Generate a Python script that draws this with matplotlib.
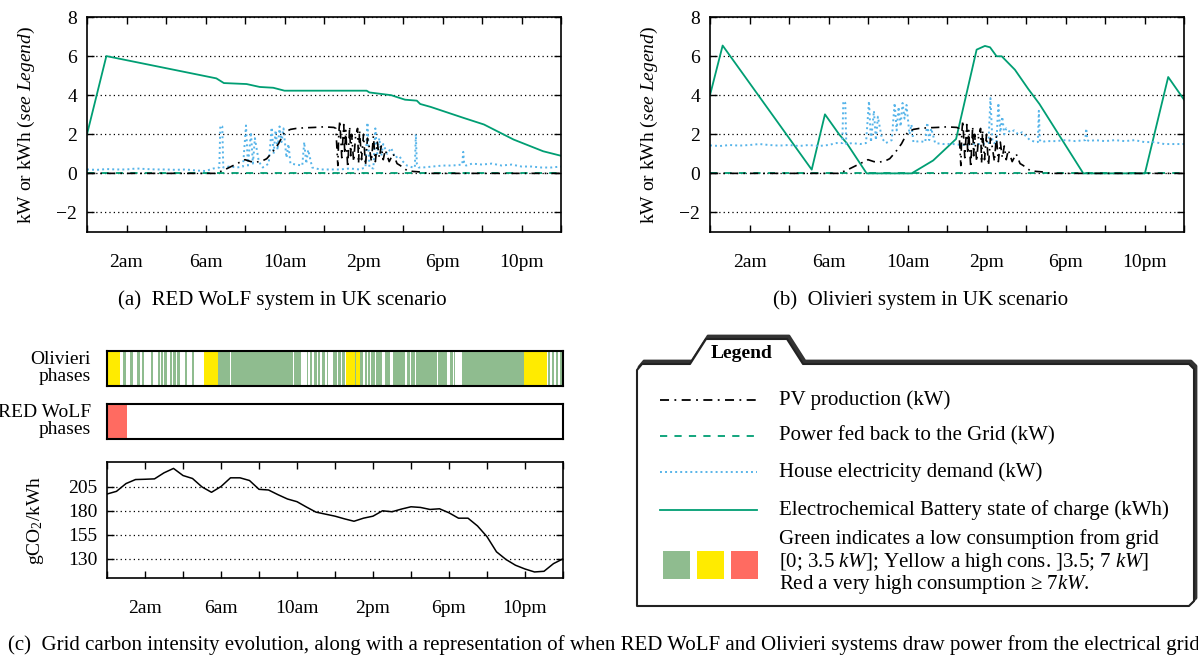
import numpy as np
import matplotlib
matplotlib.use("Agg")
import matplotlib.pyplot as plt
from matplotlib.patches import Polygon, Rectangle
from matplotlib.lines import Line2D

plt.rcParams['font.family'] = ['Liberation Serif', 'DejaVu Serif']
plt.rcParams['mathtext.fontset'] = 'custom'
plt.rcParams['mathtext.rm'] = 'Liberation Serif'
plt.rcParams['mathtext.it'] = 'Liberation Serif:italic'
plt.rcParams['font.size'] = 14

# ---- data ----
hour_ticks = [0, 2, 4, 6, 8, 10, 12, 14, 16, 18, 20, 22, 24]
hour_labels = ['', '2am', '', '6am', '', '10am', '', '2pm', '', '6pm', '', '10pm', '']

pv_hours = [0, 6.5, 6.9, 7.3, 7.7, 8.0, 8.3, 8.6, 8.9, 9.1, 9.4, 9.7, 10.0, 10.3, 10.6, 11.0, 11.5, 12.0, 12.5,
            12.6, 12.7, 12.75, 12.8, 12.9, 13.0, 13.05, 13.1, 13.2, 13.3, 13.35, 13.4, 13.5, 13.6, 13.7, 13.75,
            13.8, 13.9, 14.0, 14.1, 14.2, 14.3, 14.4,
            14.5, 14.6, 14.7, 14.8, 14.9, 15.0, 15.1, 15.3, 15.5, 15.7, 15.85, 16.2, 16.5, 16.9, 17.2, 24]
pv_kw = [0, 0, 0.15, 0.35, 0.55, 0.7, 0.6, 0.58, 0.65, 0.75, 1.1, 1.52, 2.1, 2.25, 2.3, 2.33, 2.35, 2.38, 2.35,
         2.3, 0.4, 2.1, 2.7, 0.8, 2.5, 1.0, 2.2, 0.3, 2.4, 0.9, 2.0, 0.6, 1.9, 2.3, 0.5,
         2.2, 0.7, 2.0, 0.4, 1.8, 1.3, 0.6,
         1.9, 0.6, 1.6, 0.8, 1.4, 0.7, 1.2, 0.6, 1.0, 0.5, 0.41, 0.15, 0.1, 0.07, 0, 0]

feed_hours = [0, 24]
feed_kw = [0, 0]

demand_hours = [0, 0.5, 1, 1.5, 2, 2.5, 3, 3.5, 4, 4.5, 5, 5.5, 6, 6.4, 6.7, 6.75, 6.85, 6.9,
                7.2, 7.6, 7.9, 8.05, 8.15, 8.3, 8.4, 8.5, 8.7, 8.9,
                9.2, 9.35, 9.45, 9.55, 9.65, 9.75, 9.85, 9.95, 10.1, 10.2, 10.3,
                10.6, 10.9, 11.0, 11.1, 11.2, 11.4, 11.8, 12.3, 12.8, 13.3, 13.8,
                14.1, 14.2, 14.3, 14.5, 14.6, 14.7, 14.8, 14.9, 15.0, 15.2, 15.4, 15.6, 15.8, 16.0, 16.2,
                16.5, 16.6, 16.65, 16.7, 16.8, 17.0, 17.5, 18.0, 18.5, 19.0, 19.05, 19.1, 19.2, 19.5,
                20.0, 20.5, 21.0, 21.5, 22.0, 22.5, 23.0, 23.5, 24.0]
demand_a = [0.2, 0.18, 0.22, 0.2, 0.2, 0.25, 0.22, 0.2, 0.2, 0.18, 0.2, 0.15, 0.12, 0.25, 0.3, 2.45, 2.4, 0.3,
            0.35, 0.3, 0.35, 2.45, 0.4, 2.1, 0.5, 1.8, 0.6, 0.3,
            0.5, 2.35, 1.0, 2.2, 1.2, 2.4, 1.6, 2.3, 0.8, 1.5, 0.5,
            0.45, 0.4, 1.6, 0.5, 1.2, 0.3, 0.2, 0.2, 0.2, 0.25, 0.2,
            0.3, 2.6, 0.3, 0.25, 2.3, 1.0, 1.8, 0.9, 1.5, 1.0, 1.3, 0.8, 0.9, 0.6, 0.4,
            0.3, 0.3, 2.0, 0.5, 0.3, 0.3, 0.35, 0.4, 0.4, 0.45, 1.1, 0.45, 0.4, 0.5,
            0.45, 0.5, 0.4, 0.45, 0.35, 0.35, 0.3, 0.3, 0.35]
demand_b = [1.43, 1.4, 1.45, 1.42, 1.45, 1.5, 1.45, 1.42, 1.45, 1.4, 1.45, 1.4, 1.45, 1.55, 1.55, 3.7, 3.6, 1.5,
            1.55, 1.5, 1.55, 3.7, 1.6, 3.2, 1.7, 2.9, 1.8, 1.55,
            1.7, 3.6, 2.2, 3.4, 2.4, 3.6, 2.8, 3.5, 2.0, 2.5, 1.6,
            1.65, 1.6, 2.6, 1.7, 2.3, 1.55, 1.5, 1.5, 1.45, 1.5, 1.5,
            1.55, 3.85, 1.6, 1.5, 3.6, 2.1, 2.9, 2.0, 2.3, 2.1, 2.2, 2.0, 2.1, 1.9, 1.7,
            1.6, 1.6, 3.2, 1.7, 1.6, 1.65, 1.65, 1.7, 1.65, 1.7, 2.3, 1.7, 1.65, 1.7,
            1.65, 1.7, 1.65, 1.7, 1.6, 1.6, 1.5, 1.5, 1.5]

soc_a_hours = [0, 0.98, 6.55, 6.93, 8.08, 8.75, 9.43, 10.0, 14.16, 14.3, 15.4, 16.1, 16.7, 16.87, 17.4,
               19.06, 20.1, 21.6, 23.1, 24]
soc_a = [2.0, 6.0, 4.86, 4.62, 4.57, 4.42, 4.38, 4.23, 4.23, 4.14, 4.0, 3.77, 3.72, 3.55, 3.4,
         2.84, 2.5, 1.73, 1.13, 0.9]
soc_b_hours = [0, 0.64, 5.15, 5.82, 6.55, 6.92, 7.93, 10.21, 11.3, 12.46, 13.5, 13.92, 14.18, 14.51, 14.77,
               15.44, 16.12, 16.68, 18.9, 22.02, 23.2, 24]
soc_b = [4.0, 6.54, 0.19, 3.02, 1.98, 1.55, 0, 0, 0.66, 1.76, 6.33, 6.52, 6.45, 5.99, 5.99,
         5.3, 4.31, 3.55, 0, 0, 4.93, 3.77]

carbon_hours = np.arange(0, 24.01, 0.5)
carbon = [197.6, 200.4, 208.5, 212.7, 213, 213.4, 219.7, 224.3, 216.9, 213.8, 205, 199.4, 205.4, 214.5,
          214.5, 211.7, 202.5, 201.8, 196.9, 192.4, 189.6, 184, 178.7, 176.6, 174.5, 171.7, 169.2, 172.4,
          174.5, 180.1, 179.1, 181.9, 184.3, 183.6, 181.5, 182.2, 178, 172.4, 172.4, 164.3, 153.1, 137.3,
          129.3, 123.3, 119.4, 116.3, 117, 125, 130]

# phases: (start hour, end hour)
olivieri_green = [(0.83, 1.0), (1.21, 1.39), (1.56, 1.74), (1.82, 1.96), (2.32, 2.44), (2.7, 2.79),
                  (2.84, 2.93), (3.0, 3.14), (3.32, 3.42), (3.49, 3.63), (3.67, 3.84), (4.1, 4.23),
                  (4.46, 4.58), (5.86, 6.47), (6.5, 6.88), (6.91, 7.88), (7.91, 9.81), (9.86, 10.21),
                  (10.51, 10.6), (10.68, 10.77), (10.89, 11.04), (11.09, 11.21), (11.3, 11.47),
                  (11.56, 11.65), (11.91, 12.09), (12.17, 12.32), (12.38, 12.53), (13.05, 13.12),
                  (13.33, 13.49), (13.58, 13.67), (13.72, 13.84), (13.89, 14.1), (14.14, 14.46),
                  (14.63, 14.89), (15.07, 15.68), (15.77, 15.95), (15.99, 16.21), (16.25, 17.35),
                  (17.42, 17.91), (18.05, 18.23), (18.28, 18.33), (18.67, 18.88), (18.91, 21.95),
                  (23.23, 23.32), (23.4, 23.53), (23.63, 23.75), (23.84, 23.93)]
olivieri_yellow = [(0, 0.68), (5.12, 5.86), (12.56, 13.05), (13.12, 13.33), (21.95, 23.17)]
redwolf_red = [(0, 1.07)]

GREEN = '#009E73'
BLUE = '#56B4E9'
PH_GREEN = '#8FBC8F'
PH_YELLOW = '#FFEB00'
PH_RED = '#FF6B61'

W, H = 1198, 660
TXT = 15


def rect(l, t, r, b):
    return [l / W, 1 - b / H, (r - l) / W, (b - t) / H]


fig = plt.figure(figsize=(W / 100, H / 100), dpi=100)

# overlay for captions and the legend box
ov = fig.add_axes([0, 0, 1, 1])
ov.set_xlim(0, W)
ov.set_ylim(H, 0)
ov.axis('off')


def style_time_axis(ax):
    ax.set_xlim(0, 24)
    ax.set_xticks(hour_ticks)
    ax.set_xticklabels(hour_labels)
    ax.tick_params(direction='in', top=True, right=True, length=5, width=1, labelsize=14)
    ax.tick_params(axis='x', pad=16)
    ax.tick_params(axis='y', pad=7)
    ax.grid(axis='y', linestyle=(0, (1, 2.5)), color='black', linewidth=0.9)
    for s in ax.spines.values():
        s.set_linewidth(1.2)


def energy_panel(box, soc_h, soc, demand):
    ax = fig.add_axes(rect(*box))
    ax.plot(soc_h, soc, color=GREEN, lw=1.3)
    ax.plot(demand_hours, demand, color=BLUE, lw=1.4, linestyle=(0, (1, 1.6)))
    ax.plot(feed_hours, feed_kw, color=GREEN, lw=1.3, linestyle=(0, (4, 4)))
    ax.plot(pv_hours, pv_kw, color='black', lw=1.2, linestyle=(0, (5, 3, 1, 3)))
    ax.set_ylim(-3, 8)
    ax.set_yticks([-2, 0, 2, 4, 6, 8])
    ax.set_yticklabels(['\u22122', '0', '2', '4', '6', '8'])
    style_time_axis(ax)
    ax.set_ylabel('kW or kWh ($\\it{see\\ Legend}$)', fontsize=14, labelpad=14)
    return ax


energy_panel((87, 17, 561, 232), soc_a_hours, soc_a, demand_a)
energy_panel((710, 17, 1184, 232), soc_b_hours, soc_b, demand_b)

ov.text(282, 300, '(a)  RED WoLF system in UK scenario', ha='center', va='center', fontsize=TXT)
ov.text(921, 300, '(b)  Olivieri system in UK scenario', ha='center', va='center', fontsize=TXT)


def phase_bar(box, spans):
    ax = fig.add_axes(rect(*box))
    ax.set_xlim(0, 24)
    ax.set_ylim(0, 1)
    for segs, col in spans:
        ax.broken_barh([(s, e - s) for s, e in segs], (0, 1), facecolors=col, edgecolor='none')
    ax.set_xticks([])
    ax.set_yticks([])
    for s in ax.spines.values():
        s.set_linewidth(1.5)
    return ax


phase_bar((107, 351, 563, 386), [(olivieri_green, PH_GREEN), (olivieri_yellow, PH_YELLOW)])
phase_bar((107, 404, 563, 439), [(redwolf_red, PH_RED)])
ov.text(91, 368, 'Olivieri\nphases', ha='right', va='center', fontsize=14, linespacing=1.0)
ov.text(91, 421, 'RED WoLF\nphases', ha='right', va='center', fontsize=14, linespacing=1.0)

axc = fig.add_axes(rect(107, 462, 563, 578))
axc.plot(carbon_hours, carbon, color='black', lw=1.1)
axc.set_ylim(110, 231)
axc.set_yticks([130, 155, 180, 205])
style_time_axis(axc)
axc.set_ylabel('gCO$_2$/kWh', fontsize=14, labelpad=16)

ov.text(8, 645, '(c)  Grid carbon intensity evolution, along with a representation of when RED WoLF and '
        'Olivieri systems draw power from the electrical grid', ha='left', va='center', fontsize=TXT)

# legend box (folder tab shape)
tab = [(637, 606), (637, 370), (642, 364), (690, 364), (706, 339), (787, 339), (803, 364),
       (1189, 364), (1194, 369), (1194, 601), (1189, 606)]
shadow = [(x + 2, y - 3) for x, y in tab]
ov.add_patch(Polygon(shadow, closed=True, facecolor='#333333', edgecolor='#333333', lw=2, joinstyle='round'))
ov.add_patch(Polygon(tab, closed=True, facecolor='white', edgecolor='#222222', lw=1.5, joinstyle='round'))
ov.text(742, 354, 'Legend', ha='center', va='center', fontsize=14, fontweight='bold')

legend_items = [
    ('PV production (kW)', dict(color='black', lw=1.3, linestyle=(0, (5, 3, 1, 3)))),
    ('Power fed back to the Grid (kW)', dict(color=GREEN, lw=1.3, linestyle=(0, (4, 4)))),
    ('House electricity demand (kW)', dict(color=BLUE, lw=1.4, linestyle=(0, (1, 1.6)))),
    ('Electrochemical Battery state of charge (kWh)', dict(color=GREEN, lw=1.3)),
]
rows_y = [400, 436, 472, 510]
for (label, style), y in zip(legend_items, rows_y):
    ov.add_line(Line2D([660, 757], [y, y], **style))
    ov.text(779, y, label, ha='left', va='center', fontsize=TXT)

for x0, col in zip([663, 697, 731], [PH_GREEN, PH_YELLOW, PH_RED]):
    ov.add_patch(Rectangle((x0, 551), 27, 28, facecolor=col, edgecolor='none'))
ov.text(779, 539, 'Green indicates a low consumption from grid', ha='left', va='center', fontsize=TXT)
ov.text(779, 562, '[0; 3.5 $kW$]; Yellow a high cons. ]3.5; 7 $kW$]', ha='left', va='center', fontsize=TXT)
ov.text(779, 585, 'Red a very high consumption \u2265 7$kW$.', ha='left', va='center', fontsize=TXT)

fig.savefig('out.png', dpi=100)
